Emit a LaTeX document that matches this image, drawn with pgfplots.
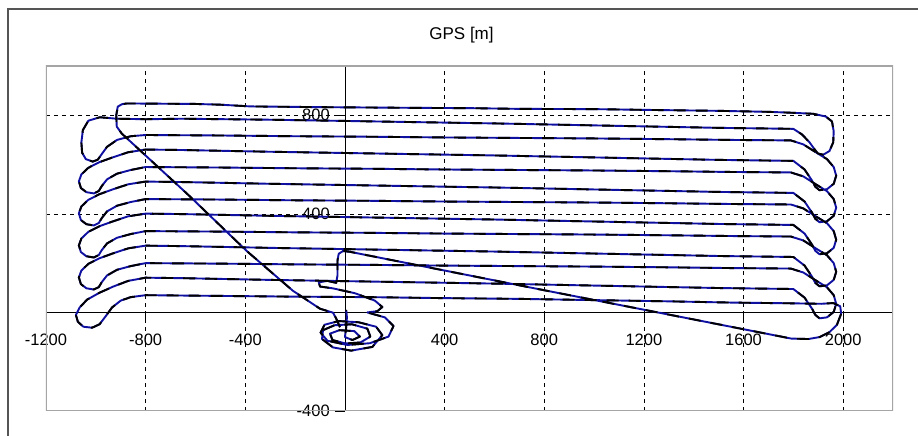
\documentclass[border=0pt]{standalone}
\usepackage{pgfplots}
\pgfplotsset{compat=1.18}
\usepackage{pgfplotstable}
\usepackage{fontspec}
\setmainfont{Liberation Sans}
\definecolor{trackblue}{RGB}{15,15,160}
\definecolor{boxgray}{RGB}{165,165,165}
\definecolor{framegray}{RGB}{85,85,85}

\pgfplotstableread{
x y
-20 -60
-35 -25
-48 -1
-100 15
-209 88
-394 249
-631 479
-896 726
-916 754
-918 800
-912 835
-895 845
-875 848
-600 846
-500 843
-380 836
-100 833
300 830
500 829
700 826
1000 825
1200 822
1500 818
1700 814
1800 810
1880 806
1930 795
1955 775
1962 735
1960 690
1945 655
1920 640
1898 645
1885 662
1865 690
1835 722
1800 745
1500 749
1200 755
900 761
600 767
300 772
0 777
-300 782
-650 786
-800 784
-916 786
-984 792
-1030 778
-1052 740
-1058 690
-1055 648
-1040 622
-1012 612
-992 620
-978 640
-955 672
-915 700
-860 715
-800 720
-500 718
-200 715
100 713
400 710
700 708
1000 706
1300 703
1550 700
1790 698
1840 682
1890 650
1935 622
1962 590
1972 555
1962 522
1935 500
1905 496
1888 510
1875 535
1845 580
1800 615
1500 619
1200 625
900 631
600 637
300 642
0 647
-300 652
-650 659
-800 661
-870 650
-930 630
-985 610
-1030 587
-1058 560
-1068 532
-1060 505
-1038 488
-1008 483
-988 493
-976 513
-955 540
-915 563
-860 578
-800 590
-500 588
-200 585
100 583
400 580
700 578
1000 576
1300 573
1550 570
1790 568
1840 552
1890 520
1935 492
1962 460
1972 425
1962 392
1935 370
1905 366
1888 380
1875 405
1845 450
1800 485
1500 489
1200 495
900 501
600 507
300 512
0 517
-300 522
-650 529
-800 531
-870 520
-930 500
-985 480
-1030 457
-1058 430
-1068 402
-1060 375
-1038 358
-1008 353
-988 363
-976 383
-955 410
-915 433
-860 448
-800 460
-500 458
-200 455
100 453
400 450
700 448
1000 446
1300 443
1550 440
1790 438
1840 422
1890 390
1935 362
1962 330
1972 295
1962 262
1935 240
1905 236
1888 250
1875 275
1845 320
1800 355
1500 359
1200 365
900 371
600 377
300 382
0 387
-300 392
-650 399
-800 401
-870 390
-930 370
-985 350
-1030 327
-1058 300
-1068 272
-1060 245
-1038 228
-1008 223
-988 233
-976 253
-955 280
-915 303
-860 318
-800 330
-500 328
-200 325
100 323
400 320
700 318
1000 316
1300 313
1550 310
1790 308
1840 292
1890 260
1935 232
1962 200
1972 165
1962 132
1935 110
1905 106
1888 120
1875 145
1845 190
1800 225
1500 229
1200 235
900 241
600 247
300 252
0 257
-300 262
-650 269
-800 271
-870 260
-930 240
-985 220
-1030 197
-1058 170
-1068 142
-1060 115
-1038 98
-1008 93
-988 103
-976 123
-955 150
-915 173
-860 188
-800 200
-500 198
-200 195
100 193
400 190
700 188
1000 186
1300 183
1550 180
1790 178
1840 162
1890 130
1935 102
1962 70
1972 35
1962 2
1935 -20
1905 -24
1888 -10
1875 15
1845 60
1800 95
1500 99
1200 105
900 111
600 117
300 122
0 127
-300 132
-650 139
-800 141
-870 128
-930 105
-985 80
-1035 52
-1065 20
-1080 -10
-1072 -38
-1050 -58
-1015 -62
-985 -48
-960 -15
-935 20
-900 48
-860 62
-800 70
-500 67
-200 64
100 62
400 58
700 55
1000 50
1300 45
1550 40
1790 37
1912 35
1960 38
1988 25
1992 -5
1975 -50
1945 -80
1905 -100
1860 -108
1791 -106
1458 -40
1200 11
800 90
400 170
150 220
20 246
-8 249
-25 238
-30 210
-30 150
-35 120
-70 128
-105 122
-100 105
-50 98
40 78
120 48
150 22
130 5
90 0
160 -20
195 -55
175 -98
100 -125
10 -132
-70 -115
-98 -82
-82 -50
-25 -35
55 -40
125 -58
150 -92
110 -140
25 -155
-48 -142
-92 -108
-88 -72
-42 -52
28 -48
90 -66
102 -98
62 -122
2 -126
-50 -112
-60 -86
-22 -72
38 -76
60 -98
30 -112
0 -100
5 -60
8 -20
5 10
}\track

\begin{document}
\begin{tikzpicture}
\useasboundingbox (-46pt,-25pt) rectangle (872pt,411pt);
\fill[white] (-46pt,-25pt) rectangle (872pt,411pt);
\draw[framegray, line width=1.6pt] (-38pt,-30pt) -- (-38pt,402pt) -- (880pt,402pt);
\node[font=\fontsize{17}{20}\selectfont] at (415.5pt,376pt) {GPS [m]};
\begin{axis}[
  at={(0pt,0pt)}, anchor=south west,
  scale only axis, width=847pt, height=345pt,
  xmin=-1200, xmax=2200, ymin=-400, ymax=1000,
  axis lines=middle,
  axis line style={-, black, line width=0.8pt},
  xtick={-800,-400,0,400,800,1200,1600,2000},
  xticklabels={-800,-400,0,400,800,1200,1600,2000},
  extra x ticks={-1200},
  extra x tick labels={-1200},
  extra y ticks={-400},
  extra y tick labels={-400},
  extra tick style={grid=none},
  ytick={0,400,800},
  yticklabels={0,400,800},
  grid=major,
  grid style={black, line width=0.7pt, dash pattern=on 4pt off 4pt},
  tick style={black, line width=0.7pt},
  major tick length=10pt,
  tick align=outside,
  tick label style={font=\fontsize{16.5}{18}\selectfont, inner sep=1pt},
  xticklabel style={yshift=-10pt},
  yticklabel style={xshift=-4pt},
  clip=true,
]
\addplot[trackblue, line width=1.9pt, line join=round] table[x=x,y=y] {\track};
\addplot[black, line width=1.9pt, line join=round, dash pattern=on 12pt off 10pt] table[x=x,y=y] {\track};
\draw[boxgray, line width=1.6pt] (rel axis cs:0,0) rectangle (rel axis cs:1,1);
\end{axis}
\end{tikzpicture}
\end{document}
